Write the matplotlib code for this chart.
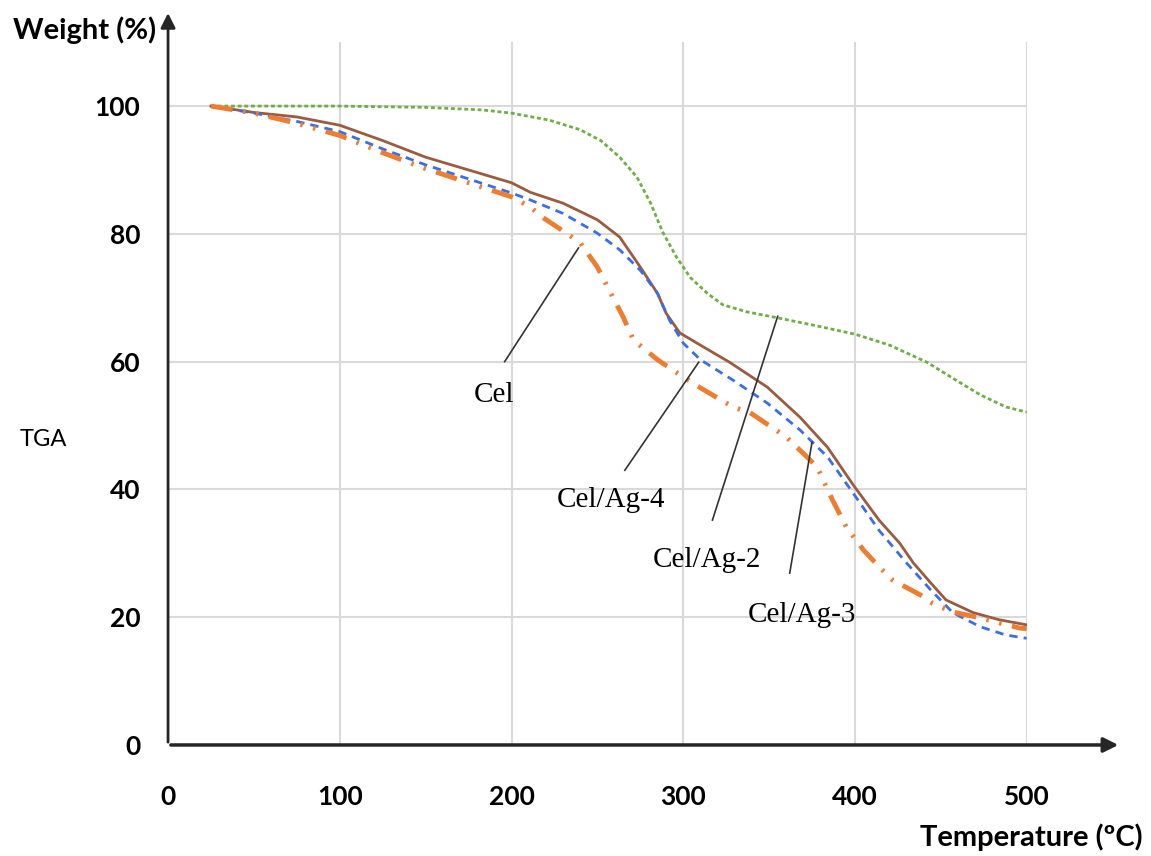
import matplotlib
matplotlib.use("Agg")
import matplotlib.pyplot as plt

# ---- data (temperature in ºC, weight in %) ----
t_cel = [25, 50, 75, 100, 125, 150, 175, 200, 211, 218, 232, 240, 250, 259, 265, 271, 285, 300,
         310, 329, 339, 360, 372, 378, 387, 395, 405, 414, 422, 438, 445, 457, 473, 484, 496, 500]
w_cel = [100, 98.9, 97.3, 95.4, 92.7, 90.2, 88.0, 85.8, 84.2, 82.6, 80.1, 78.6, 74.8, 70.1, 67.0, 63.4, 60.3, 57.6,
         55.9, 52.9, 52.0, 48.2, 45.1, 43.5, 38.3, 34.1, 30.5, 27.9, 25.8, 23.5, 22.2, 20.8, 19.9, 19.1, 18.3, 18.2]

t_ag2 = [25, 100, 150, 183, 200, 222, 240, 252, 263, 273, 281, 288, 296, 304, 314, 323, 337,
         356, 376, 400, 420, 442, 457, 473, 488, 500]
w_ag2 = [100, 100, 99.8, 99.4, 98.9, 97.8, 96.3, 94.6, 92.0, 88.9, 84.8, 80.3, 76.4, 73.2, 70.7, 68.9, 67.8,
         66.8, 65.7, 64.3, 62.6, 59.9, 57.4, 54.8, 52.9, 52.1]

t_ag3 = [25, 50, 75, 100, 125, 150, 175, 200, 211, 230, 250, 263, 275, 285, 290, 298, 308, 327,
         349, 368, 384, 399, 414, 426, 434, 444, 453, 469, 484, 500]
w_ag3 = [100, 99.0, 98.3, 97.0, 94.6, 92.0, 90.0, 88.0, 86.5, 84.8, 82.2, 79.5, 74.8, 70.7, 67.6, 64.5, 62.9, 59.9,
         56.0, 51.3, 46.6, 40.7, 35.2, 31.6, 28.5, 25.4, 22.7, 20.7, 19.6, 18.8]

t_ag4 = [25, 50, 75, 100, 125, 150, 175, 200, 211, 230, 250, 263, 275, 285, 292, 300, 310, 329,
         349, 368, 384, 399, 414, 430, 444, 457, 473, 488, 500]
w_ag4 = [100, 98.9, 97.6, 96.0, 93.3, 90.8, 88.6, 86.4, 85.3, 83.2, 80.1, 77.5, 74.3, 70.7, 66.5, 62.9, 60.3, 57.1,
         53.5, 49.3, 45.1, 39.4, 33.6, 28.5, 24.3, 20.7, 18.5, 17.2, 16.7]

x_ticks = [0, 100, 200, 300, 400, 500]
y_ticks = [0, 20, 40, 60, 80, 100]

# label text, text position, leader line start, leader line end
labels = ["Cel", "Cel/Ag-4", "Cel/Ag-2", "Cel/Ag-3"]
label_xy = [(190, 54.8), (258, 38.3), (314, 29.0), (369, 20.3)]
leader_from = [(196, 60.0), (266, 43.0), (317, 35.2), (362, 26.9)]
leader_to = [(239, 77.8), (309, 59.9), (355, 67.1), (375, 47.4)]

# ---- figure ----
fig = plt.figure(figsize=(11.51, 8.56), dpi=100)
ax = fig.add_axes([0.146, 0.1297, 0.746, 0.821])
ax.set_xlim(0, 500)
ax.set_ylim(0, 110)

for xv in x_ticks[1:]:
    ax.axvline(xv, color="#d9d9d9", lw=1.5, zorder=0)
for yv in y_ticks[1:]:
    ax.axhline(yv, color="#d9d9d9", lw=1.5, zorder=0)

ax.plot(t_ag2, w_ag2, color="#70ad47", lw=2, dashes=(1.4, 1.0), zorder=3)
ax.plot(t_ag3, w_ag3, color="#9a5b3e", lw=2, zorder=3)
ax.plot(t_ag4, w_ag4, color="#3a6ee8", lw=2, dashes=(3, 2.2), zorder=4)
ax.plot(t_cel, w_cel, color="#ed7d31", lw=3.5, dashes=(4.5, 2.2, 0.5, 2.2, 0.5, 2.2), zorder=4)

for lab, pos, p0, p1 in zip(labels, label_xy, leader_from, leader_to):
    ax.plot([p0[0], p1[0]], [p0[1], p1[1]], color="#333333", lw=1.2, zorder=5)
    ax.text(pos[0], pos[1], lab, fontsize=21, family="Liberation Serif",
            ha="center", va="center", zorder=6)

# axes with arrow heads
for s in ax.spines.values():
    s.set_visible(False)
ax.annotate("", xy=(555, 0), xytext=(0, 0), xycoords="data", annotation_clip=False,
            arrowprops=dict(arrowstyle="-|>", color="#262626", lw=2.5, mutation_scale=22))
ax.annotate("", xy=(0, 115), xytext=(0, 0), xycoords="data", annotation_clip=False,
            arrowprops=dict(arrowstyle="-|>", color="#262626", lw=2, mutation_scale=22))

ax.set_xticks(x_ticks)
ax.set_yticks(y_ticks)
ax.tick_params(length=0)
ax.tick_params(axis="x", pad=29)
ax.tick_params(axis="y", pad=20)
for t in ax.get_xticklabels() + ax.get_yticklabels():
    t.set_fontfamily("Lato")
    t.set_fontweight("bold")
    t.set_fontsize(19)

fig.text(0.011, 0.965, "Weight (%)", fontsize=21, fontweight="bold", family="Lato",
         ha="left", va="center")
fig.text(0.017, 0.486, "TGA", fontsize=17, family="Lato", ha="left", va="center")
fig.text(0.993, 0.022, "Temperature (ºC)", fontsize=21, fontweight="bold", family="Lato",
         ha="right", va="center")

fig.savefig("out.png", dpi=100)
